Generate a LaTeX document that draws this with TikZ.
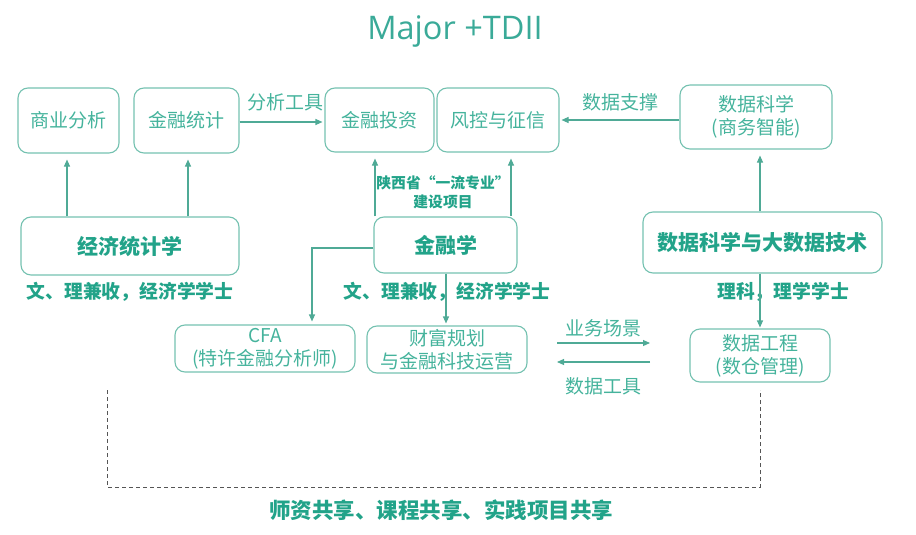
\documentclass[tikz,border=0pt]{standalone}
\usepackage{fontspec}
\setmainfont{Noto Sans CJK SC}
\newfontfamily\titlefont{Open Sans}
\usetikzlibrary{arrows.meta}
\definecolor{boxc}{HTML}{74C1B0}
\definecolor{linec}{HTML}{4FAA96}
\definecolor{lighttxt}{HTML}{45B39C}
\definecolor{boldtxt}{HTML}{22A389}
\definecolor{titlec}{HTML}{3AAA98}
\definecolor{dashc}{HTML}{555555}
\tikzset{
  x=1pt,y=-1pt,
  box/.style={draw=boxc,line width=1.1pt,rounded corners=10pt,inner sep=0pt,align=center,text=lighttxt,font=\fontsize{19}{23}\selectfont},
  bbox/.style={box,text=boldtxt,font=\fontsize{21}{25}\selectfont\bfseries},
  lbl/.style={inner sep=0pt,align=center,text=lighttxt,font=\fontsize{19}{23}\selectfont},
  blbl/.style={inner sep=0pt,align=center,text=boldtxt,font=\fontsize{18.8}{23}\selectfont\bfseries},
  arr/.style={draw=linec,line width=1.1pt,-{Triangle[length=7pt,width=6pt]}},
  uparr/.style={arr,shorten >=6pt},
  dashline/.style={draw=dashc,line width=0.8pt,dash pattern=on 4pt off 3pt},
}
\begin{document}
\begin{tikzpicture}
\useasboundingbox (0,0) rectangle (916,535);
\node[inner sep=0pt,text=titlec,font=\titlefont\fontsize{32.5}{36}\selectfont] (title) at (455,31) {Major +TDII};

\node[box,minimum width=101pt,minimum height=65pt] (n1) at (68.5,120.5) {商业分析};
\node[box,minimum width=105pt,minimum height=65pt] (n2) at (186.5,120.5) {金融统计};
\node[box,minimum width=109pt,minimum height=64pt] (n3) at (379.5,120) {金融投资};
\node[box,minimum width=122pt,minimum height=64pt] (n4) at (498,120) {风控与征信};
\node[box,minimum width=152pt,minimum height=64pt] (n5) at (756,117) {数据科学\\(商务智能)};

\node[bbox,minimum width=218pt,minimum height=58pt] (n6) at (130,246) {经济统计学};
\node[bbox,minimum width=143pt,minimum height=56pt] (n7) at (445.5,245) {金融学};
\node[bbox,minimum width=239pt,minimum height=61pt] (n8) at (762.5,242.5) {数据科学与大数据技术};

\node[box,minimum width=180pt,minimum height=47pt] (n9) at (265,348.5) {CFA\\(特许金融分析师)};
\node[box,minimum width=160pt,minimum height=47pt] (n10) at (447,349.5) {财富规划\\与金融科技运营};
\node[box,minimum width=140pt,minimum height=53pt] (n11) at (760,355.5) {数据工程\\(数仓管理)};

% labels
\node[lbl] (l1) at (285,102) {分析工具};
\node[lbl] (l2) at (620,102) {数据支撑};
\node[inner sep=0pt,align=center,text=boldtxt,font=\fontsize{14.8}{19}\selectfont\bfseries] (l3) at (443,192) {陕西省“一流专业”\\建设项目};
\node[blbl] (l4) at (130,292) {文、理兼收，经济学学士};
\node[blbl] (l5) at (447,292) {文、理兼收，经济学学士};
\node[blbl] (l6) at (783,292) {理科，理学学士};
\node[lbl] (l7) at (603,328) {业务场景};
\node[lbl] (l8) at (603,386) {数据工具};
\node[inner sep=0pt,text=boldtxt,font=\fontsize{21.5}{26}\selectfont\bfseries] (l9) at (441,510) {师资共享、课程共享、实践项目共享};

% x positions
\coordinate (xa) at (67,0);
\coordinate (xb) at (188,0);
\coordinate (xc) at (375,0);
\coordinate (xd) at (511,0);
\coordinate (xe) at (760,0);
\coordinate (xf) at (312,0);
\coordinate (xg) at (446,0);
\coordinate (ya) at (0,122);
\coordinate (yb) at (0,120);
\coordinate (yc) at (0,248);

% connectors
\draw[uparr] (n6.north -| xa) -- (n1.south -| xa);
\draw[uparr] (n6.north -| xb) -- (n2.south -| xb);
\draw[arr,shorten >=2pt] (n2.east |- ya) -- (n3.west |- ya);
\draw[uparr] (n7.north -| xc) -- (n3.south -| xc);
\draw[uparr] (n7.north -| xd) -- (n4.south -| xd);
\draw[arr,shorten >=2pt] (n5.west |- yb) -- (n4.east |- yb);
\draw[uparr] (n8.north -| xe) -- (n5.south -| xe);
\draw[arr,shorten >=3pt] (n7.west |- yc) -| (n9.north -| xf);
\draw[arr,shorten >=2pt] (n7.south -| xg) -- (n10.north -| xg);
\draw[arr,shorten >=1pt] (n8.south -| xe) -- (n11.north -| xe);

\coordinate (p1) at (557,343);
\coordinate (p2) at (650,343);
\coordinate (p3) at (650,362);
\coordinate (p4) at (557,362);
\draw[arr] (p1) -- (p2);
\draw[arr] (p3) -- (p4);

\coordinate (d1) at (107,390);
\coordinate (d2) at (107,487);
\coordinate (d3) at (760,487);
\coordinate (d4) at (760,390);
\draw[dashline] (d1) -- (d2) -- (d3) -- (d4);
\end{tikzpicture}
\end{document}
